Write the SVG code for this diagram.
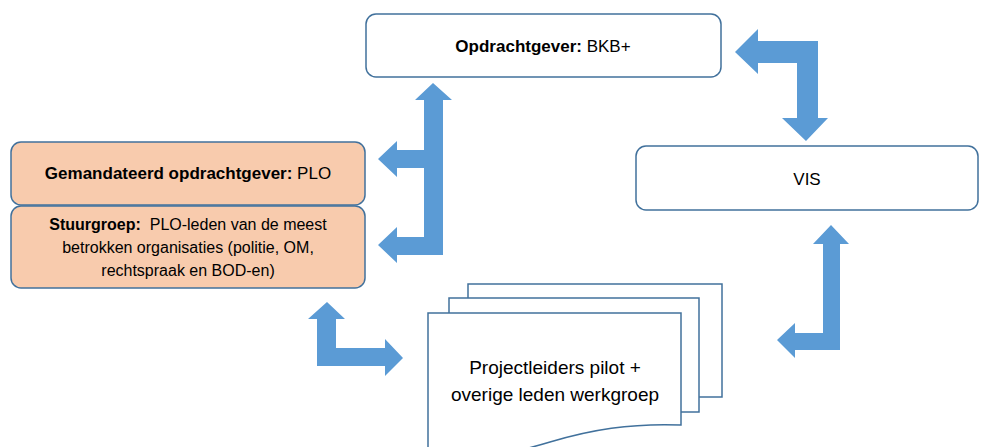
<svg xmlns="http://www.w3.org/2000/svg" width="989" height="447" viewBox="0 0 989 447">
<style>
.box{fill:#ffffff;stroke:#41719C;stroke-width:1.5}
.peach{fill:#F8CBAD;stroke:#41719C;stroke-width:1.5}
.doc{fill:#ffffff;stroke:#41719C;stroke-width:1.5}
.arrow{fill:#5B9BD5}
text{font-family:"Liberation Sans",Arial,sans-serif;font-size:16px;fill:#000000;text-anchor:middle}
.b{font-weight:bold}
.l{font-size:17px}
.dt{font-size:19px}
</style>
<rect width="989" height="447" fill="#ffffff"/>
<g id="opdrachtgever">
<rect class="box" x="366" y="14" width="355" height="63" rx="10"/>
<text class="l" x="543" y="52"><tspan class="b">Opdrachtgever:</tspan> BKB+</text>
</g>
<g id="gemandateerd">
<rect class="peach" x="11" y="142" width="354" height="63" rx="10"/>
<text class="l" x="188" y="179"><tspan class="b">Gemandateerd opdrachtgever:</tspan> PLO</text>
</g>
<g id="stuurgroep">
<rect class="peach" x="11" y="206" width="354" height="82" rx="10"/>
<text x="188" y="230"><tspan class="b">Stuurgroep:</tspan>&#160; PLO-leden van de meest</text>
<text x="188" y="253">betrokken organisaties (politie, OM,</text>
<text x="188" y="276">rechtspraak en BOD-en)</text>
</g>
<g id="vis">
<rect class="box" x="636" y="146" width="342" height="64" rx="10"/>
<text class="l" x="807" y="185">VIS</text>
</g>
<g id="projectleiders">
<rect class="doc" x="468" y="284" width="254" height="113"/>
<rect class="doc" x="449" y="298" width="250" height="114"/>
<path class="doc" d="M428,313 H681 V425 C630,423 590,430 550,442 C510,454 470,462 428,462 Z"/>
<text class="dt" x="555" y="374">Projectleiders pilot +</text>
<text class="dt" x="555" y="401">overige leden werkgroep</text>
</g>
<g id="connectors">
<polygon class="arrow" points="433,83 452,100 443,100 443,168 397,168 397,177 378,159 397,141 397,150 424,150 424,100 415,100"/>
<polygon class="arrow" points="424,165 443,165 443,255 397,255 397,263 378,245 397,227 397,237 424,237"/>
<polygon class="arrow" points="735,52 758,29 758,41 818,41 818,118 828,118 806,141 782,118 797,118 797,63 758,63 758,74"/>
<polygon class="arrow" points="831,225 849,244 840,244 840,350 795,350 795,358 777,340 795,323 795,333 823,333 823,244 813,244"/>
<polygon class="arrow" points="327,302 345,319 336,319 336,348 385,348 385,339 403,358 385,376 385,366 317,366 317,319 308,319"/>
</g>
</svg>
